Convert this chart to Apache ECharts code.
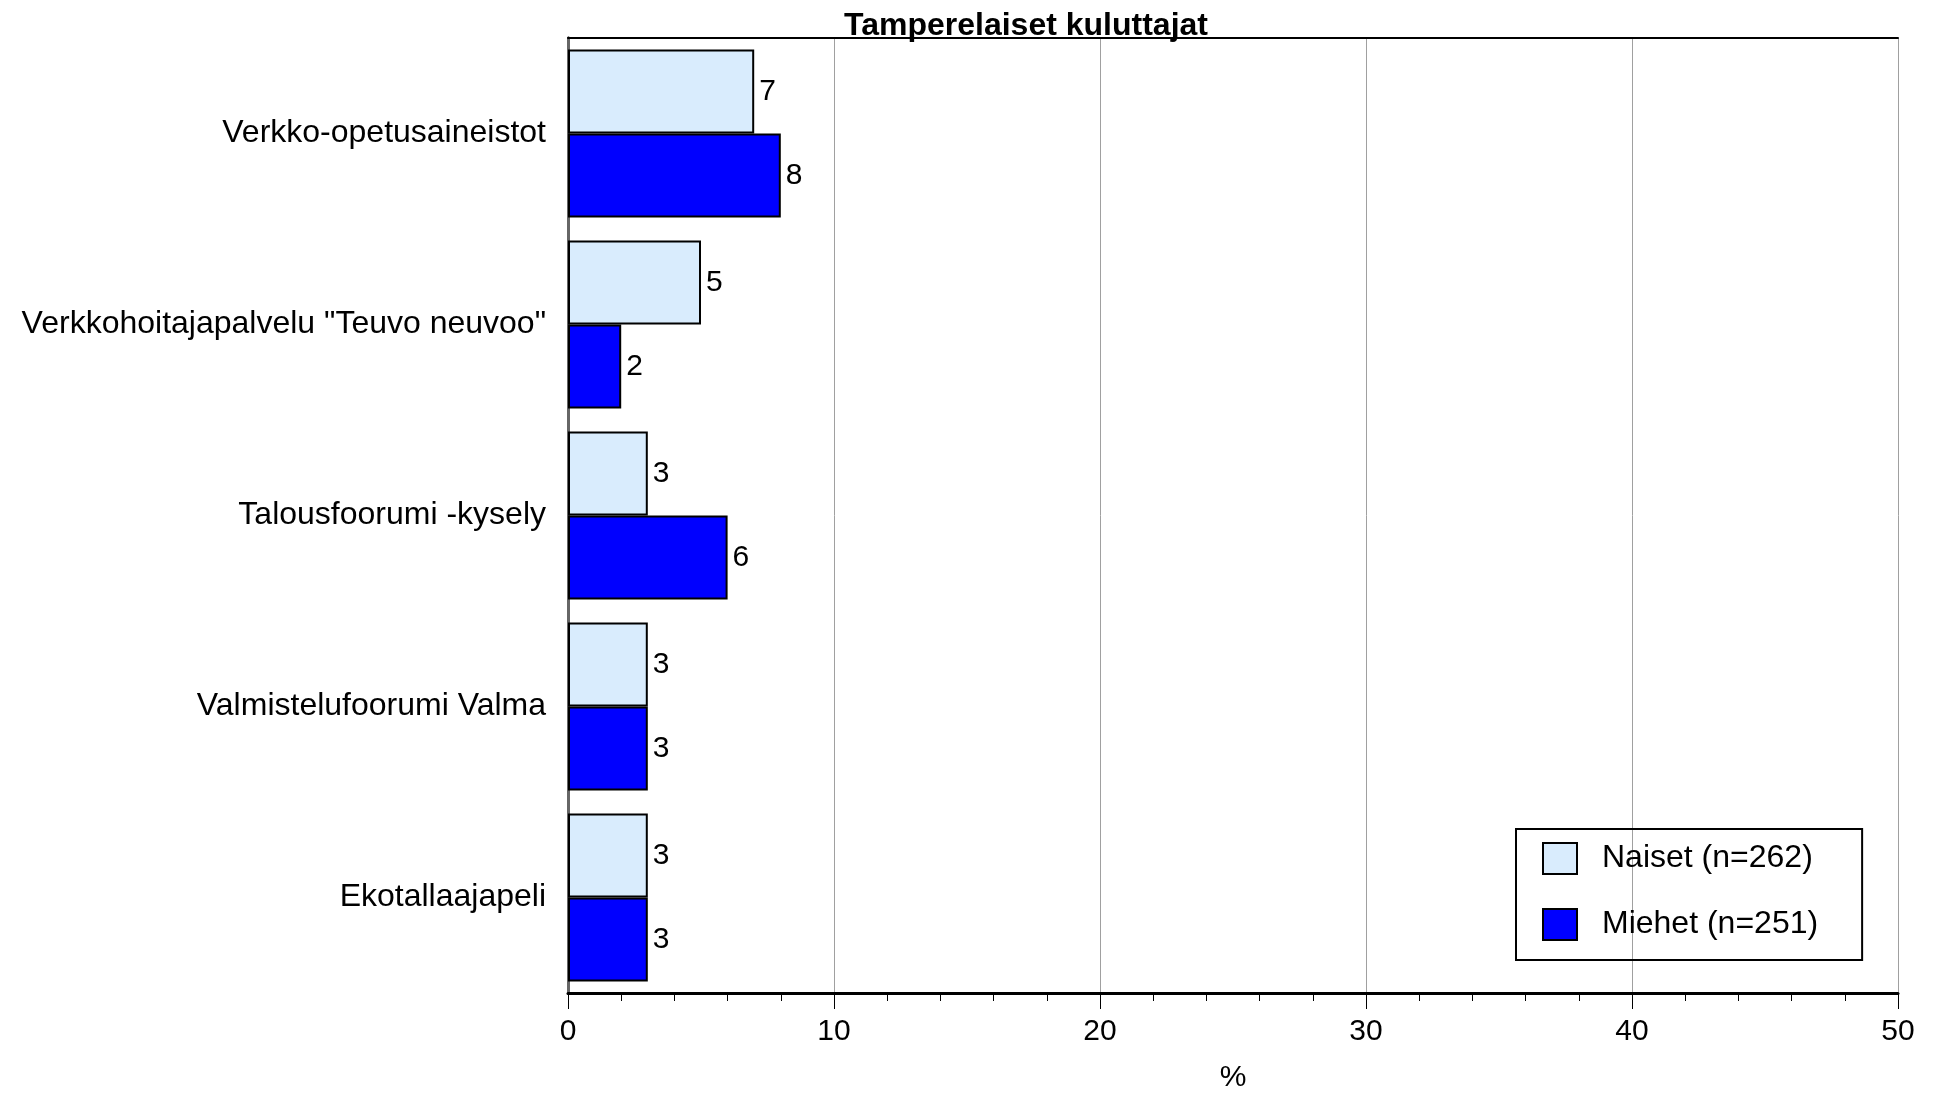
<!DOCTYPE html>
<html>
<head>
<meta charset="utf-8">
<script src="https://cdn.jsdelivr.net/npm/echarts@6/dist/echarts.min.js"></script>
<style>
html,body{margin:0;padding:0;background:#fff;}
#main{width:1937px;height:1098px;}
</style>
</head>
<body>
<div id="main"></div>
<script>
const categories = ['Verkko-opetusaineistot', 'Verkkohoitajapalvelu "Teuvo neuvoo"', 'Talousfoorumi -kysely', 'Valmistelufoorumi Valma', 'Ekotallaajapeli'];
const naiset = [7, 5, 3, 3, 3];
const miehet = [8, 2, 6, 3, 3];
const seriesNames = ['Naiset (n=262)', 'Miehet (n=251)'];
const chartTitle = 'Tamperelaiset kuluttajat';
const xName = '%';

const FONT = "'Liberation Sans', Arial, sans-serif";
const chart = echarts.init(document.getElementById('main'), null, {renderer: 'canvas'});
const labelCfg = {show: true, position: 'right', distance: 5, fontSize: 30, color: '#000', fontFamily: FONT};
chart.setOption({
  animation: false,
  backgroundColor: '#fff',
  title: {
    text: chartTitle, left: 1021, top: 5, textAlign: 'center',
    textStyle: {fontFamily: FONT, fontSize: 32, fontWeight: 'bold', color: '#000'}
  },
  grid: {left: 568, right: 39, top: 38, bottom: 98, containLabel: false},
  legend: {
    orient: 'vertical', left: 1516, top: 829,
    data: seriesNames,
    icon: 'rect', itemWidth: 34, itemHeight: 31, itemGap: 33,
    padding: [13, 44, 19, 26],
    borderColor: '#000', borderWidth: 2,
    textStyle: {fontFamily: FONT, fontSize: 32, color: '#000', padding: [0, 0, 0, 20]}
  },
  xAxis: [{
    type: 'value', min: 0, max: 50, interval: 10,
    name: xName, nameLocation: 'middle', nameGap: 70,
    nameTextStyle: {fontFamily: FONT, fontSize: 30, color: '#000'},
    axisLine: {show: true, lineStyle: {color: '#000', width: 3}},
    axisTick: {show: true, length: 16, lineStyle: {color: '#000', width: 1}},
    minorTick: {show: true, splitNumber: 5, length: 8, lineStyle: {color: '#000', width: 1}},
    axisLabel: {fontFamily: FONT, fontSize: 30, color: '#000', margin: 24},
    splitLine: {show: true, lineStyle: {color: '#a0a0a0', width: 1}}
  }, {
    type: 'value', min: 0, max: 50, position: 'top',
    axisLine: {show: true, lineStyle: {color: '#000', width: 2}},
    axisTick: {show: false}, axisLabel: {show: false}, splitLine: {show: false}
  }],
  yAxis: [{
    type: 'category', data: categories, inverse: true,
    axisLine: {show: true, lineStyle: {color: '#000', width: 3}},
    axisTick: {show: false},
    axisLabel: {fontFamily: FONT, fontSize: 32, color: '#000', margin: 22}
  }, {
    type: 'value', position: 'right', min: 0, max: 1,
    axisLine: {show: true, lineStyle: {color: '#666', width: 3}},
    axisTick: {show: false}, axisLabel: {show: false}, splitLine: {show: false}
  }],
  series: [{
    name: seriesNames[0], type: 'bar', data: naiset,
    barCategoryGap: '12%', barGap: '0%',
    itemStyle: {color: '#d9ecfd', borderColor: '#000', borderWidth: 2},
    label: labelCfg
  }, {
    name: seriesNames[1], type: 'bar', data: miehet,
    barCategoryGap: '12%', barGap: '0%',
    itemStyle: {color: '#0000ff', borderColor: '#000', borderWidth: 2},
    label: labelCfg
  }]
});
</script>
</body>
</html>
